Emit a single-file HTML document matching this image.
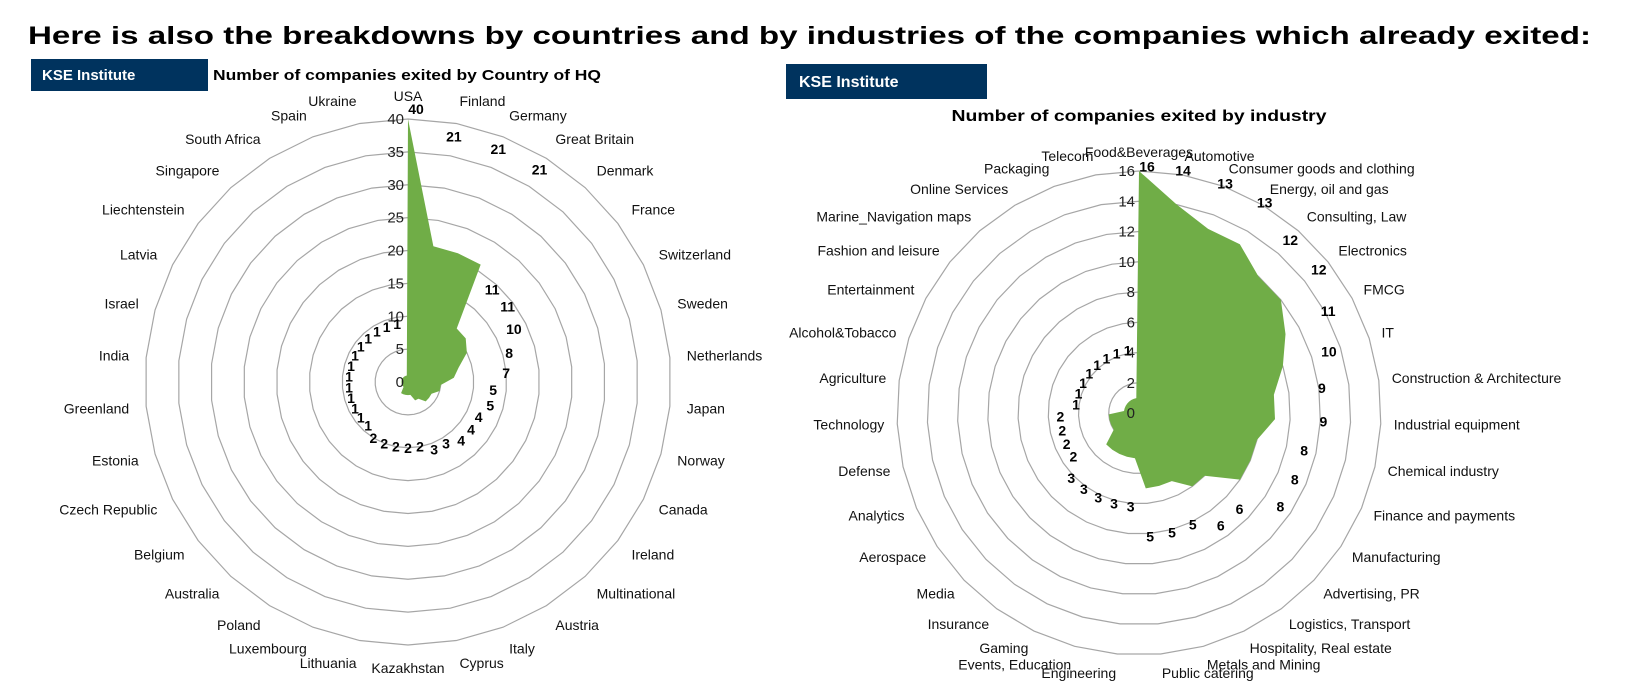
<!DOCTYPE html>
<html><head><meta charset="utf-8"><style>
html,body{margin:0;padding:0;background:#fff;}
svg{display:block;font-family:"Liberation Sans",Arial,sans-serif;}
</style></head><body>
<svg id="page" width="1626" height="684" viewBox="0 0 1626 684" xmlns="http://www.w3.org/2000/svg">
<text x="28" y="44" font-size="25" font-weight="bold" textLength="1563" lengthAdjust="spacingAndGlyphs">Here is also the breakdowns by countries and by industries of the companies which already exited:</text>
<rect x="31" y="59" width="177" height="32" fill="#00335e"/>
<text x="42" y="80" font-size="15" font-weight="bold" fill="#fff">KSE Institute</text>
<text x="213" y="80" font-size="15" font-weight="bold" textLength="388" lengthAdjust="spacingAndGlyphs">Number of companies exited by Country of HQ</text>
<rect x="786" y="64" width="201" height="35" fill="#00335e"/>
<text x="799" y="87" font-size="16" font-weight="bold" fill="#fff">KSE Institute</text>
<text x="1139" y="121" font-size="16" font-weight="bold" text-anchor="middle" textLength="375" lengthAdjust="spacingAndGlyphs">Number of companies exited by industry</text>
<g id="left-chart"></g>
<g id="right-chart"></g>
</svg>
<script>
const leftCats = ["USA","Finland","Germany","Great Britain","Denmark","France","Switzerland","Sweden","Netherlands","Japan","Norway","Canada","Ireland","Multinational","Austria","Italy","Cyprus","Kazakhstan","Lithuania","Luxembourg","Poland","Australia","Belgium","Czech Republic","Estonia","Greenland","India","Israel","Latvia","Liechtenstein","Singapore","South Africa","Spain","Ukraine"];
const leftVals = [40,21,21,21,11,11,10,8,7,5,5,4,4,4,3,3,2,2,2,2,2,1,1,1,1,1,1,1,1,1,1,1,1,1];
const leftTicks = [0,5,10,15,20,25,30,35,40];
const rightCats = ["Food&Beverages","Automotive","Consumer goods and clothing","Energy, oil and gas","Consulting, Law","Electronics","FMCG","IT","Construction & Architecture","Industrial equipment","Chemical industry","Finance and payments","Manufacturing","Advertising, PR","Logistics, Transport","Hospitality, Real estate","Metals and Mining","Public catering","Engineering","Events, Education","Gaming","Insurance","Media","Aerospace","Analytics","Defense","Technology","Agriculture","Alcohol&Tobacco","Entertainment","Fashion and leisure","Marine_Navigation maps","Online Services","Packaging","Telecom"];
const rightVals = [16,14,13,13,12,12,11,10,9,9,8,8,8,6,6,5,5,5,3,3,3,3,3,2,2,2,2,1,1,1,1,1,1,1,1];
const rightTicks = [0,2,4,6,8,10,12,14,16];

const NS = "http://www.w3.org/2000/svg";
function mk(tag, attrs, parent){
  const e = document.createElementNS(NS, tag);
  for (const k in attrs) e.setAttribute(k, attrs[k]);
  parent.appendChild(e);
  return e;
}
function radar(g, cfg){
  const {cats, vals, ticks, cx, cy, R, max, labR, fs, labelRadius, prefix} = cfg;
  const n = cats.length;
  const ang = i => i * 2 * Math.PI / n;
  const rr = v => v / max * R;
  const pt = (i, r) => [cx + r * Math.sin(ang(i)), cy - r * Math.cos(ang(i))];
  ticks.forEach(t => {
    if (t === 0) return;
    const pts = cats.map((c, i) => pt(i, rr(t)).join(",")).join(" ");
    const ring = mk("polygon", {points: pts, fill: "none", stroke: "#a6a6a6", "stroke-width": 1.2}, g);
    
    
  });
  const poly = mk("polygon", {points: vals.map((v, i) => pt(i, rr(v)).join(",")).join(" "), fill: "#70ad47"}, g);
  
  
  ticks.forEach(t => {
    const tl = mk("text", {x: cx - 4, y: cy - rr(t) + 5, "font-size": fs + 1, "text-anchor": "end", fill: "#222"}, g);
    tl.textContent = t;
    
    
  });
  cats.forEach((c, i) => {
    const a = ang(i), s = Math.sin(a), co = Math.cos(a);
    const x = cx + labR * s;
    const y = cy - labR * co - 6 * co + 5;
    const anchor = Math.abs(s) < 0.02 ? "middle" : (s > 0 ? "start" : "end");
    const t = mk("text", {x: x, y: y, "font-size": fs, "text-anchor": anchor, fill: "#111"}, g);
    t.textContent = c;
    
    
  });
  vals.forEach((v, i) => {
    const r = rr(labelRadius(v));
    const [x, y] = pt(i, r);
    const t = mk("text", {x: x + (i === 0 ? 8 : 0), y: y + 5, "font-size": fs, "font-weight": "bold", "text-anchor": "middle", fill: "#000"}, g);
    t.textContent = v;
    
    
  });
}
radar(document.getElementById("left-chart"), {
  cats: leftCats, vals: leftVals, ticks: leftTicks, cx: 408, cy: 382, R: 263, max: 40, labR: 280, fs: 14, prefix: "country",
  labelRadius: v => v <= 12 ? v + 8 : (v >= 40 ? 41.5 : 38)
});
radar(document.getElementById("right-chart"), {
  cats: rightCats, vals: rightVals, ticks: rightTicks, cx: 1139, cy: 413, R: 242, max: 16, labR: 255, fs: 14, prefix: "industry",
  labelRadius: v => Math.min(v + 3.2, 16.3)
});
</script>
</body></html>
